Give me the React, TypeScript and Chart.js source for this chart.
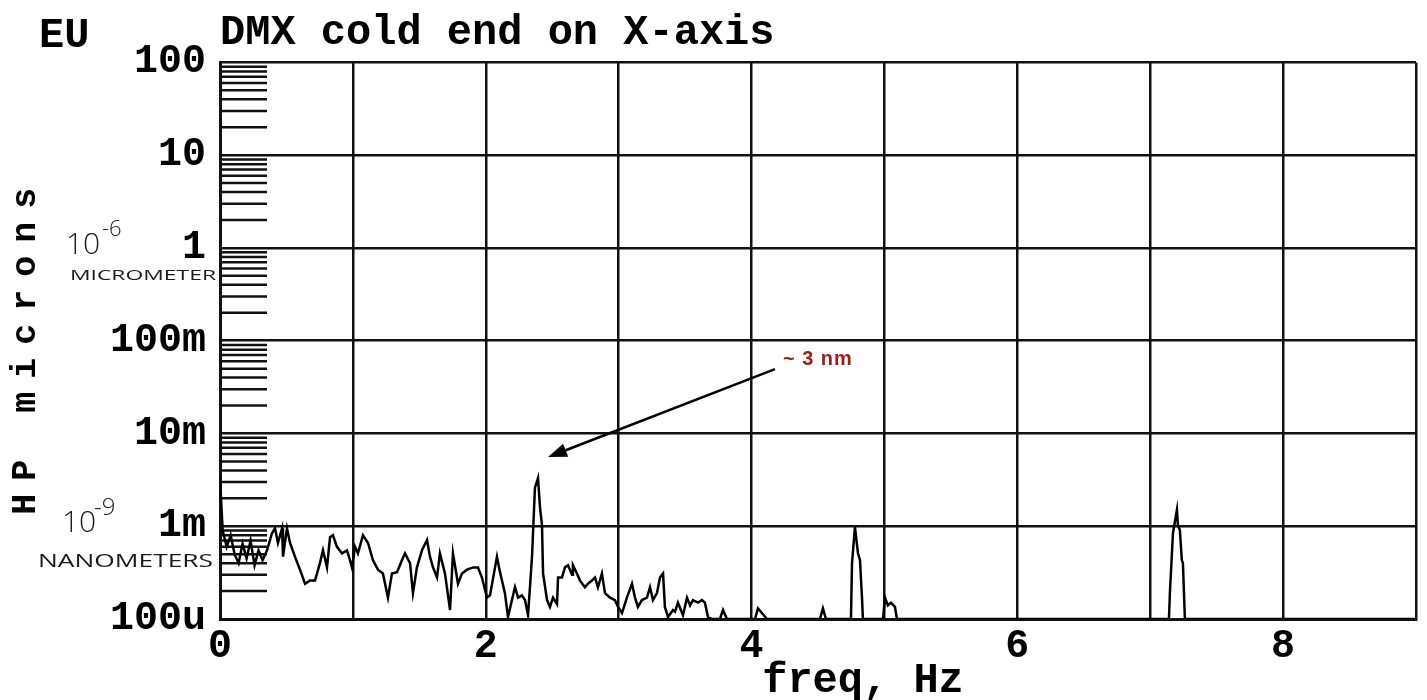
import React, { useEffect, useRef } from 'react';
import { Chart, registerables } from 'chart.js';

Chart.register(...registerables);

// ---------- data ----------
const freqHz = [
  0.0, 0.02, 0.05, 0.08, 0.11, 0.14, 0.17, 0.2, 0.23, 0.26, 0.29, 0.32,
  0.354, 0.391, 0.414, 0.436, 0.467, 0.474, 0.504, 0.527, 0.564, 0.602, 0.64, 0.677, 0.715, 0.752, 0.775, 0.805, 0.828, 0.85, 0.88, 0.918, 0.956, 0.978, 0.993,
  1.016, 1.038, 1.076, 1.114, 1.151, 1.189, 1.226, 1.264, 1.294, 1.332, 1.369, 1.392, 1.43, 1.452, 1.482, 1.52, 1.558, 1.58, 1.603, 1.633, 1.655, 1.693, 1.731, 1.753, 1.791, 1.821, 1.859, 1.904, 1.941, 1.971,
  2.009, 2.032, 2.084, 2.107, 2.144, 2.167, 2.197, 2.22, 2.243, 2.272, 2.295, 2.318, 2.348, 2.37, 2.393, 2.408, 2.423, 2.431, 2.461, 2.483, 2.506, 2.536, 2.544, 2.573, 2.596, 2.619, 2.649, 2.656, 2.686, 2.709, 2.746, 2.769, 2.799, 2.822, 2.844, 2.874, 2.897, 2.935, 2.972, 2.995,
  3.025, 3.062, 3.1, 3.123, 3.145, 3.175, 3.213, 3.236, 3.258, 3.288, 3.311, 3.334, 3.348, 3.371, 3.409, 3.424, 3.446, 3.484, 3.514, 3.537, 3.559, 3.597, 3.627, 3.649, 3.672, 3.702, 3.762, 3.785, 3.815,
  4.026, 4.048, 4.078, 4.116, 4.515, 4.537, 4.56, 4.748, 4.756, 4.778, 4.801, 4.816, 4.831, 4.838, 4.989, 5.004, 5.026, 5.049, 5.079, 5.094,
  7.141, 7.148, 7.171, 7.201, 7.208, 7.223, 7.238, 7.246, 7.261, 9.0,
];

const amplitude = [
  3.3e-3, 9.0e-4, 6.0e-4, 8.0e-4, 5.0e-4, 4.0e-4, 6.5e-4, 4.5e-4, 7.0e-4, 3.8e-4, 5.5e-4, 4.3e-4,
  5.5e-4, 8.4e-4, 9.5e-4, 6.6e-4, 9.5e-4, 4.7e-4, 9.5e-4, 6.6e-4, 4.7e-4, 3.4e-4, 2.4e-4, 2.6e-4, 2.6e-4, 4.0e-4, 5.5e-4, 3.6e-4, 7.6e-4, 8.0e-4, 6.0e-4, 5.1e-4, 5.5e-4, 4.3e-4, 3.6e-4,
  6.0e-4, 5.1e-4, 8.0e-4, 6.6e-4, 4.3e-4, 3.4e-4, 3.1e-4, 1.7e-4, 3.1e-4, 3.2e-4, 4.3e-4, 5.1e-4, 4.0e-4, 1.9e-4, 3.6e-4, 5.5e-4, 7.1e-4, 4.7e-4, 3.6e-4, 2.8e-4, 5.1e-4, 3.1e-4, 1.25e-4, 5.1e-4, 2.4e-4, 3.1e-4, 3.4e-4, 3.6e-4, 3.6e-4, 2.8e-4,
  1.7e-4, 1.8e-4, 4.7e-4, 3.2e-4, 1.9e-4, 1.05e-4, 1.6e-4, 2.2e-4, 1.7e-4, 1.8e-4, 1.6e-4, 1.1e-4, 4.7e-4, 2.6e-3, 3.3e-3, 1.6e-3, 1.03e-3, 3.1e-4, 1.6e-4, 1.35e-4, 1.7e-4, 1.45e-4, 2.8e-4, 2.8e-4, 3.6e-4, 3.8e-4, 3.0e-4, 3.8e-4, 3.1e-4, 2.6e-4, 2.2e-4, 2.4e-4, 2.6e-4, 2.8e-4, 2.2e-4, 3.1e-4, 1.9e-4, 1.7e-4, 1.6e-4, 1.35e-4,
  1.16e-4, 1.7e-4, 2.4e-4, 1.7e-4, 1.35e-4, 1.6e-4, 1.7e-4, 2.2e-4, 1.6e-4, 1.9e-4, 2.8e-4, 3.1e-4, 1.35e-4, 1.05e-4, 1.25e-4, 1.2e-4, 1.5e-4, 1.1e-4, 1.7e-4, 1.4e-4, 1.6e-4, 1.5e-4, 1.6e-4, 1.5e-4, 1.05e-4, 1.0e-4, 1.0e-4, 1.25e-4, 1.0e-4,
  1.0e-4, 1.3e-4, 1.16e-4, 1.0e-4, 1.0e-4, 1.3e-4, 1.0e-4, 1.0e-4, 4.0e-4, 9.8e-4, 5.1e-4, 4.3e-4, 1.7e-4, 1.0e-4, 1.0e-4, 1.7e-4, 1.4e-4, 1.5e-4, 1.35e-4, 1.0e-4,
  1.0e-4, 1.9e-4, 8.4e-4, 1.5e-3, 1.03e-3, 9.1e-4, 4.3e-4, 4.0e-4, 1.0e-4, 1.0e-4,
];

const yTickValues = [100, 10, 1, 0.1, 0.01, 0.001, 0.0001];
const yTickLabels = ['100', '10', '1', '100m', '10m', '1m', '100u'];
const yMinorMultipliers = [2, 3, 4, 5, 6, 7, 8, 9];
const xTickValues = [0, 1, 2, 3, 4, 5, 6, 7, 8, 9];
const xTickLabels = ['0', '', '2', '', '4', '', '6', '', '8', ''];

const chartTitle = 'DMX cold end on X-axis';
const yAxisTitle = 'HP microns';
const xAxisTitle = 'freq, Hz';
const unitLabel = 'EU';

const peakNote = '~ 3 nm';
const noteAnchor = { freq: 4.236, amp: 0.0545 };
const arrowTail = { freq: 4.176, amp: 0.0493 };
const arrowTip = { freq: 2.468, amp: 5.56e-3 };

// handwritten notes next to the axis
const microNote = { base: '10', exp: '-6', word: 'MICROMETER', at: 1 };
const nanoNote = { base: '10', exp: '-9', word: 'NANOMETERS', at: 0.001 };

const MONO = '"Liberation Mono", "DejaVu Sans Mono", monospace';
const HAND = '"Open Sans", "DejaVu Sans", sans-serif';

const titleTweaks = {
  id: 'titleTweaks',
  beforeDraw(chart: any) {
    const ys = chart.scales.y;
    if (ys && !ys.__patched) {
      const orig = ys.drawTitle.bind(ys);
      ys.drawTitle = () => {
        const ctx = chart.ctx;
        ctx.save();
        ctx.letterSpacing = '13px';
        ctx.translate(0, 4);
        orig();
        ctx.restore();
      };
      ys.__patched = true;
    }
    const xs = chart.scales.x;
    if (xs && !xs.__patched) {
      const orig = xs.drawTitle.bind(xs);
      xs.drawTitle = () => {
        const ctx = chart.ctx;
        ctx.save();
        ctx.translate(45, 0);
        orig();
        ctx.restore();
      };
      xs.__patched = true;
    }
  },
};

const minorTicks = {
  id: 'minorTicks',
  beforeDatasetsDraw(chart: any) {
    const { ctx, chartArea } = chart;
    const ys = chart.scales.y;
    ctx.save();
    ctx.strokeStyle = '#111';
    ctx.lineWidth = 2.5;
    yTickValues.forEach((d) => {
      if (d >= 100) return;
      yMinorMultipliers.forEach((m) => {
        const y = ys.getPixelForValue(d * m);
        ctx.beginPath();
        ctx.moveTo(chartArea.left, y);
        ctx.lineTo(chartArea.left + 47, y);
        ctx.stroke();
      });
    });
    ctx.restore();
  },
};

function drawScaledText(ctx: any, text: string, x: number, y: number, width: number) {
  const w = ctx.measureText(text).width;
  ctx.save();
  ctx.translate(x, y);
  ctx.scale(width / w, 1);
  ctx.fillText(text, 0, 0);
  ctx.restore();
}

const notes = {
  id: 'notes',
  afterDraw(chart: any) {
    const { ctx } = chart;
    const xs = chart.scales.x;
    const ys = chart.scales.y;
    ctx.save();
    ctx.textBaseline = 'alphabetic';
    ctx.textAlign = 'left';

    // unit label
    ctx.fillStyle = '#000';
    ctx.font = `bold 42px ${MONO}`;
    ctx.fillText(unitLabel, 39, 47);

    // handwritten notes
    ctx.fillStyle = '#1a1a1a';
    const yMicro = ys.getPixelForValue(microNote.at);
    ctx.font = `300 30px ${HAND}`;
    ctx.fillText(microNote.base, 66, yMicro + 6);
    ctx.font = `300 22px ${HAND}`;
    ctx.fillText(microNote.exp, 102, yMicro - 12);
    ctx.font = `15px ${HAND}`;
    drawScaledText(ctx, microNote.word, 70, yMicro + 32, 146);

    const yNano = ys.getPixelForValue(nanoNote.at);
    ctx.font = `300 30px ${HAND}`;
    ctx.fillText(nanoNote.base, 62, yNano + 6);
    ctx.font = `300 24px ${HAND}`;
    ctx.fillText(nanoNote.exp, 94, yNano - 11);
    ctx.font = `18px ${HAND}`;
    drawScaledText(ctx, nanoNote.word, 38, yNano + 41, 175);

    // peak annotation
    ctx.fillStyle = '#9c1d16';
    ctx.font = 'bold 20px "Liberation Sans", Arial, sans-serif';
    ctx.letterSpacing = '1px';
    ctx.fillText(peakNote, xs.getPixelForValue(noteAnchor.freq), ys.getPixelForValue(noteAnchor.amp));
    ctx.letterSpacing = '0px';

    const x0 = xs.getPixelForValue(arrowTail.freq);
    const y0 = ys.getPixelForValue(arrowTail.amp);
    const x1 = xs.getPixelForValue(arrowTip.freq);
    const y1 = ys.getPixelForValue(arrowTip.amp);
    const ang = Math.atan2(y1 - y0, x1 - x0);
    const head = 19;
    const half = 7;
    const bx = x1 - head * Math.cos(ang);
    const by = y1 - head * Math.sin(ang);
    ctx.strokeStyle = '#000';
    ctx.lineWidth = 2.5;
    ctx.beginPath();
    ctx.moveTo(x0, y0);
    ctx.lineTo(bx, by);
    ctx.stroke();
    ctx.fillStyle = '#000';
    ctx.beginPath();
    ctx.moveTo(x1, y1);
    ctx.lineTo(bx + half * Math.sin(ang), by - half * Math.cos(ang));
    ctx.lineTo(bx - half * Math.sin(ang), by + half * Math.cos(ang));
    ctx.closePath();
    ctx.fill();
    ctx.restore();
  },
};

export default function App() {
  const ref = useRef<HTMLCanvasElement>(null);

  useEffect(() => {
    if (!ref.current) return;
    const points = freqHz.map((f, i) => ({ x: f, y: amplitude[i] }));
    const chart = new Chart(ref.current, {
      type: 'line',
      data: {
        datasets: [
          {
            data: points,
            borderColor: '#000',
            borderWidth: 2.5,
            pointRadius: 0,
            tension: 0,
            fill: false,
          },
        ],
      },
      options: {
        responsive: false,
        animation: false,
        layout: { padding: { left: 0, right: 11, top: 0, bottom: 0 } },
        plugins: {
          legend: { display: false },
          tooltip: { enabled: false },
          title: {
            display: true,
            text: chartTitle,
            align: 'start',
            fullSize: false,
            color: '#000',
            font: { family: MONO, size: 42, weight: 'bold', lineHeight: 1.2 },
            padding: { top: 8, bottom: 4 },
          },
        },
        scales: {
          x: {
            type: 'linear',
            min: 0,
            max: 9,
            afterBuildTicks: (s: any) => {
              s.ticks = xTickValues.map((v) => ({ value: v }));
            },
            afterFit: (s: any) => {
              s.height = 81;
            },
            ticks: {
              autoSkip: false,
              maxRotation: 0,
              padding: 8,
              color: '#000',
              font: { family: MONO, size: 40, weight: 'bold', lineHeight: 1 },
              callback: (v: any) => xTickLabels[xTickValues.indexOf(Number(v))],
            },
            grid: { color: '#111', lineWidth: 2.5, drawTicks: false },
            border: { color: '#111', width: 3 },
            title: {
              display: true,
              text: xAxisTitle,
              color: '#000',
              font: { family: MONO, size: 42, weight: 'bold', lineHeight: 1 },
              padding: { top: 0, bottom: -2 },
            },
          },
          y: {
            type: 'logarithmic',
            min: 1e-4,
            max: 100,
            afterBuildTicks: (s: any) => {
              s.ticks = yTickValues.map((v) => ({ value: v }));
            },
            afterFit: (s: any) => {
              s.width = 220;
            },
            ticks: {
              autoSkip: false,
              padding: 14,
              color: '#000',
              font: { family: MONO, size: 40, weight: 'bold', lineHeight: 1 },
              callback: (v: any) => yTickLabels[yTickValues.indexOf(Number(v))],
            },
            grid: { color: '#111', lineWidth: 2.5, drawTicks: false },
            border: { color: '#111', width: 3 },
            title: {
              display: true,
              text: yAxisTitle,
              color: '#000',
              font: { family: MONO, size: 35, weight: 'bold', lineHeight: 1.2 },
              padding: { top: 5, bottom: 0 },
            },
          },
        },
      },
      plugins: [titleTweaks, minorTicks, notes],
    } as any);
    return () => chart.destroy();
  }, []);

  return (
    <div style={{ position: 'fixed', left: 0, top: 0, width: 1427, height: 700, background: '#fff' }}>
      <canvas ref={ref} width={1427} height={700} style={{ width: 1427, height: 700, display: 'block' }} />
    </div>
  );
}
